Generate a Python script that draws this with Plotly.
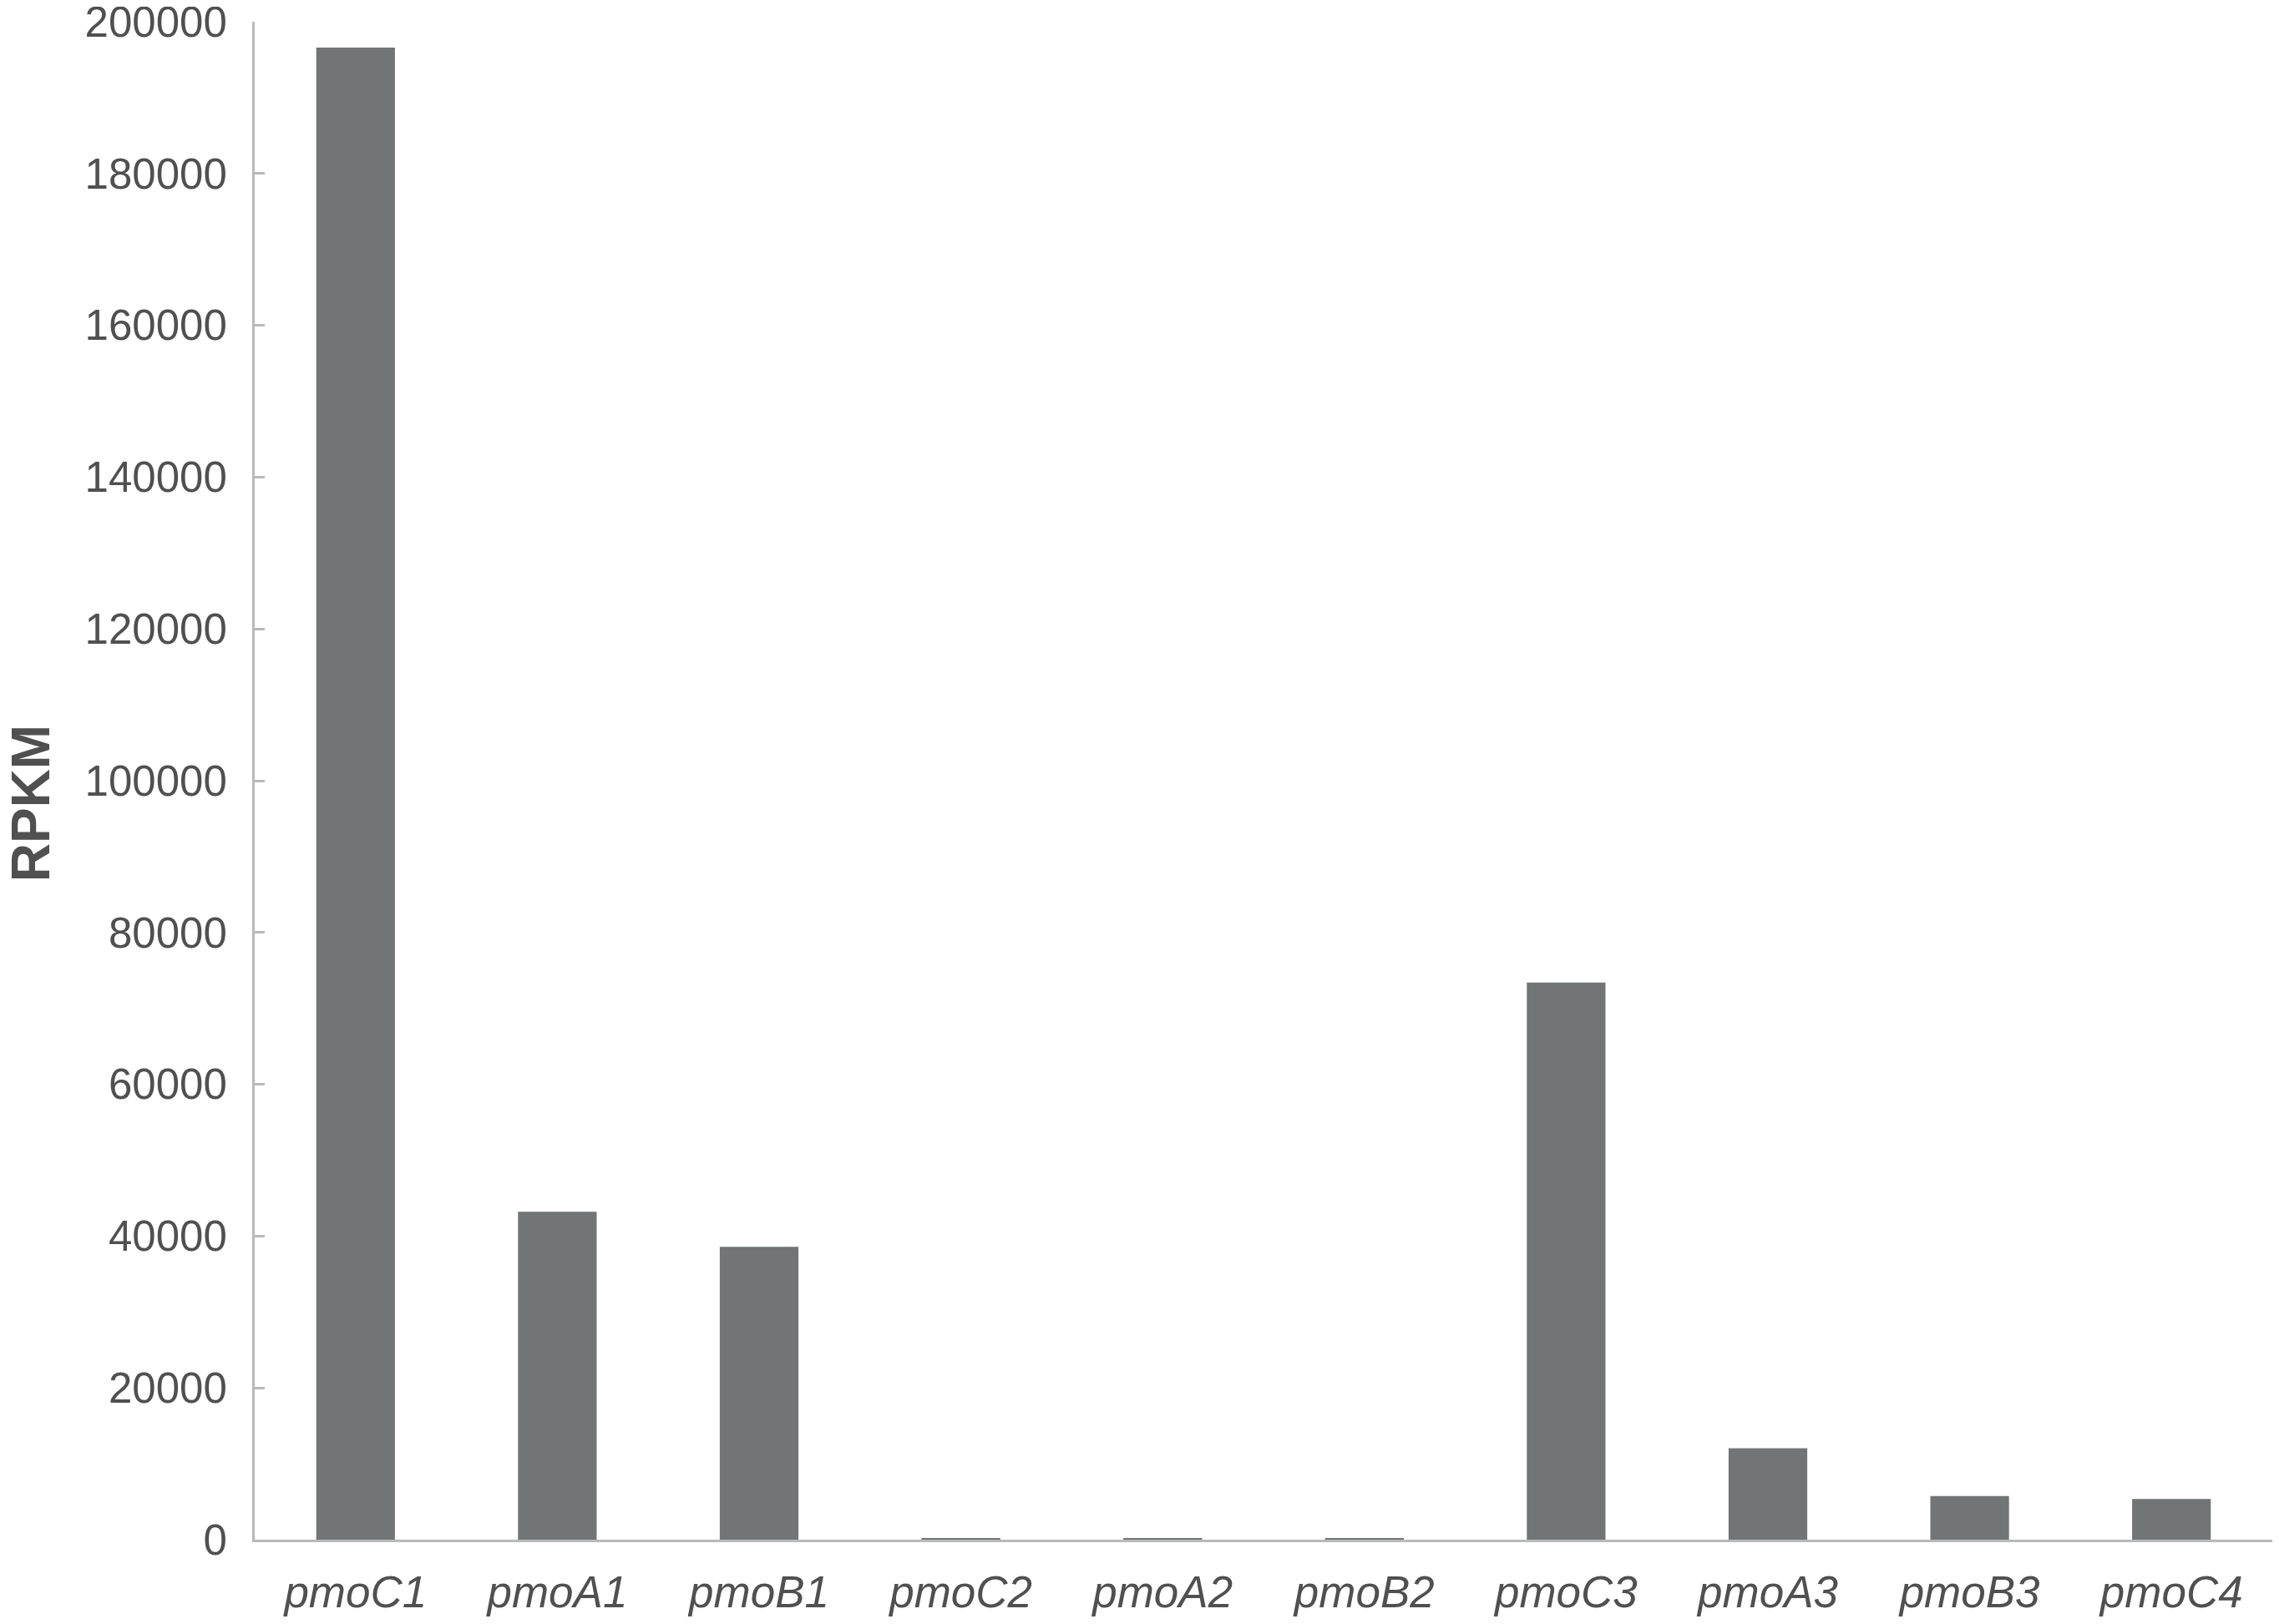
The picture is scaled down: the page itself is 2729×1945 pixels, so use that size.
import plotly.graph_objects as go

genes = ["pmoC1", "pmoA1", "pmoB1", "pmoC2", "pmoA2", "pmoB2",
         "pmoC3", "pmoA3", "pmoB3", "pmoC4"]
rpkm = [196600, 43200, 38600, 150, 120, 130, 73400, 12050, 5750, 5350]

tick_labels = [f"<i>{g}</i>" for g in genes]

text_color = "#505050"
axis_color = "#b9b9b9"

fig = go.Figure()
fig.add_bar(x=genes, y=rpkm, marker=dict(color="#727576", line_width=0))

# the page body keeps its default 8px margin, so the figure is sized to fit inside it
fig.update_layout(
    width=2713,
    height=1929,
    margin=dict(l=297, r=0, t=18, b=93, autoexpand=False),
    paper_bgcolor="white",
    plot_bgcolor="white",
    bargap=0.61,
    showlegend=False,
    font=dict(family="Liberation Sans, Arial, sans-serif", color=text_color, size=48),
)
fig.update_xaxes(
    tickvals=genes,
    ticktext=tick_labels,
    showline=True,
    linecolor=axis_color,
    linewidth=3,
    ticks="",
    showgrid=False,
    tickfont=dict(size=53),
    ticklabelstandoff=14,
    automargin=False,
)
fig.update_yaxes(
    range=[0, 200000],
    dtick=20000,
    tickformat="d",
    showline=True,
    linecolor=axis_color,
    linewidth=3,
    ticks="inside",
    ticklen=12,
    tickwidth=3,
    tickcolor=axis_color,
    showgrid=False,
    zeroline=False,
    tickfont=dict(size=51),
    ticklabelstandoff=20,
    ticklabeloverflow="allow",
    automargin=False,
)

# y-axis title as an annotation so it sits slightly below centre, as in the original
fig.add_annotation(
    text="<b>RPKM</b>",
    xref="paper",
    yref="paper",
    x=0,
    y=0.485,
    xanchor="center",
    yanchor="middle",
    xshift=-268,
    textangle=-90,
    showarrow=False,
    font=dict(size=64, color=text_color),
)

fig.write_html("out.html")
